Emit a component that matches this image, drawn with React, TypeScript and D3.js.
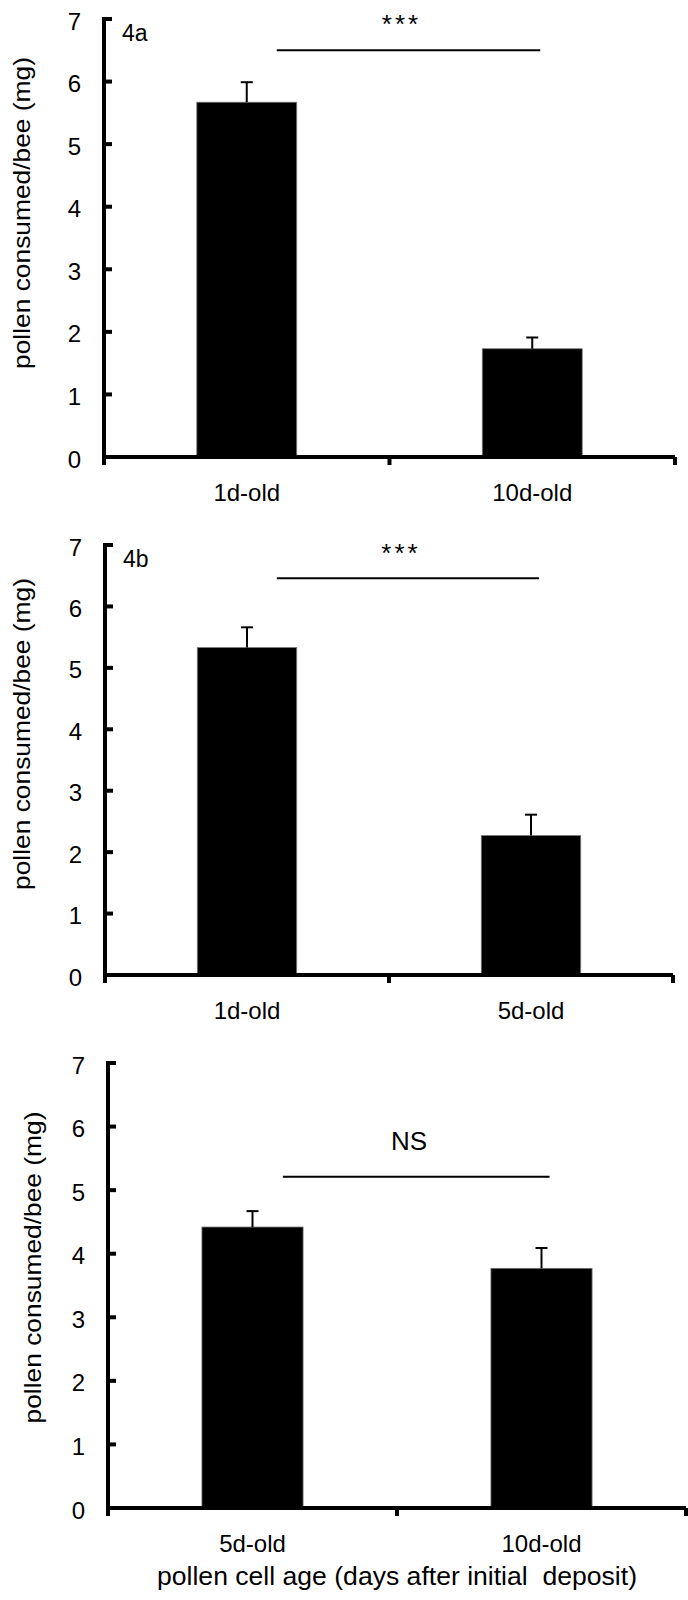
import React, { useEffect } from "react";
import * as d3 from "d3";

// values (mg of pollen per bee), upper error = SE
const catsA = ["1d-old", "10d-old"];
const meanA = [5.67, 1.73];
const errA = [0.32, 0.18];

const catsB = ["1d-old", "5d-old"];
const meanB = [5.33, 2.27];
const errB = [0.33, 0.34];

const catsC = ["5d-old", "10d-old"];
const meanC = [4.42, 3.77];
const errC = [0.25, 0.32];

const panelTags = ["4a", "4b", ""];
const sigText = ["***", "***", "NS"];
const sigLevel = [6.5, 6.46, 5.21];
const sigTextLevel = [6.78, 6.72, 5.63];
const yTicks = [0, 1, 2, 3, 4, 5, 6, 7];
const yTitle = "pollen consumed/bee (mg)";
const xTitle = "pollen cell age (days after initial\u00a0 deposit)";

const font = "'Liberation Sans', Arial, sans-serif";

type PanelProps = {
  cats: string[];
  means: number[];
  errs: number[];
  tag: string;
  sig: string;
  sigY: number;
  sigTextY: number;
  left: number;
  right: number;
  top: number;
  bottom: number;
  titleX: number;
  titleShift: number;
  sigFont: number;
  showXTitle?: boolean;
};

const Panel = (p: PanelProps) => {
  const x = d3.scaleBand().domain(p.cats).range([p.left, p.right]).paddingInner(0.65).paddingOuter(0.325);
  const y = d3.scaleLinear().domain([0, 7]).range([p.bottom, p.top]);
  const bw = x.bandwidth();
  const c0 = p.cats[0];
  const c1 = p.cats[1];
  const bounds = [p.left, (p.left + p.right) / 2, p.right];
  const isStars = p.sig === "***";

  return (
    <g fontFamily={font}>
      {/* bars */}
      {p.cats.map((c, i) => (
        <rect key={c} x={x(c)} y={y(p.means[i])} width={bw} height={y(0) - y(p.means[i])} fill="#000" stroke="#777" strokeWidth={0.8} />
      ))}
      {/* error bars, upper only */}
      {p.cats.map((c, i) => {
        const cx = (x(c) as number) + bw / 2;
        return (
          <g key={c + "e"} stroke="#000" strokeWidth={2}>
            <line x1={cx} x2={cx} y1={y(p.means[i])} y2={y(p.means[i] + p.errs[i])} />
            <line x1={cx - 6} x2={cx + 6} y1={y(p.means[i] + p.errs[i])} y2={y(p.means[i] + p.errs[i])} />
          </g>
        );
      })}
      {/* y axis */}
      <line x1={p.left} x2={p.left} y1={p.top - 2} y2={p.bottom + 8} stroke="#000" strokeWidth={4} />
      {yTicks.map((t) => (
        <g key={t}>
          <line x1={p.left} x2={p.left + 8} y1={y(t)} y2={y(t)} stroke="#000" strokeWidth={4} />
          <text x={p.left - 23} y={y(t) + 2} textAnchor="end" dominantBaseline="central" fontSize={24}>
            {t}
          </text>
        </g>
      ))}
      {/* x axis */}
      <line x1={p.left} x2={p.right} y1={p.bottom} y2={p.bottom} stroke="#000" strokeWidth={4} />
      {bounds.slice(1).map((b) => (
        <line key={b} x1={b} x2={b} y1={p.bottom} y2={p.bottom + 8} stroke="#000" strokeWidth={4} />
      ))}
      {p.cats.map((c) => (
        <text key={c + "l"} x={(x(c) as number) + bw / 2} y={p.bottom + 44} textAnchor="middle" fontSize={24}>
          {c}
        </text>
      ))}
      {/* y title */}
      <text
        transform={`translate(${p.titleX},${(p.top + p.bottom) / 2 + p.titleShift}) rotate(-90)`}
        textAnchor="middle"
        dominantBaseline="central"
        fontSize={24}
        textLength={312}
        lengthAdjust="spacingAndGlyphs"
      >
        {yTitle}
      </text>
      {p.tag && (
        <text x={p.left + 18} y={p.top + 22} fontSize={23}>
          {p.tag}
        </text>
      )}
      {/* significance */}
      <line x1={(x(c0) as number) + bw * 0.8} x2={(x(c1) as number) + bw * 0.58} y1={y(p.sigY)} y2={y(p.sigY)} stroke="#000" strokeWidth={2} />
      <text
        x={((x(c0) as number) + (x(c1) as number) + bw) / 2 + 12}
        y={y(p.sigTextY)}
        textAnchor="middle"
        fontSize={p.sigFont}
        letterSpacing={isStars ? 3 : 0}
      >
        {p.sig}
      </text>
      {p.showXTitle && (
        <text x={(p.left + p.right) / 2} y={p.bottom + 77} textAnchor="middle" fontSize={25} textLength={480} lengthAdjust="spacingAndGlyphs">
          {xTitle}
        </text>
      )}
    </g>
  );
};

const App = () => {
  useEffect(() => {
    document.body.style.margin = "0";
  }, []);

  return (
    <svg width={688} height={1600} viewBox="0 0 688 1600" style={{ display: "block", background: "#fff" }}>
      <Panel cats={catsA} means={meanA} errs={errA} tag={panelTags[0]} sig={sigText[0]} sigY={sigLevel[0]} sigTextY={sigTextLevel[0]}
        left={104} right={675} top={19} bottom={457} titleX={21} titleShift={-25} sigFont={26} />
      <Panel cats={catsB} means={meanB} errs={errB} tag={panelTags[1]} sig={sigText[1]} sigY={sigLevel[1]} sigTextY={sigTextLevel[1]}
        left={105} right={673} top={545} bottom={975} titleX={21} titleShift={-26} sigFont={26} />
      <Panel cats={catsC} means={meanC} errs={errC} tag={panelTags[2]} sig={sigText[2]} sigY={sigLevel[2]} sigTextY={sigTextLevel[2]}
        left={108} right={686} top={1063} bottom={1508} titleX={32} titleShift={-18} sigFont={26} showXTitle />
    </svg>
  );
};

export default App;
